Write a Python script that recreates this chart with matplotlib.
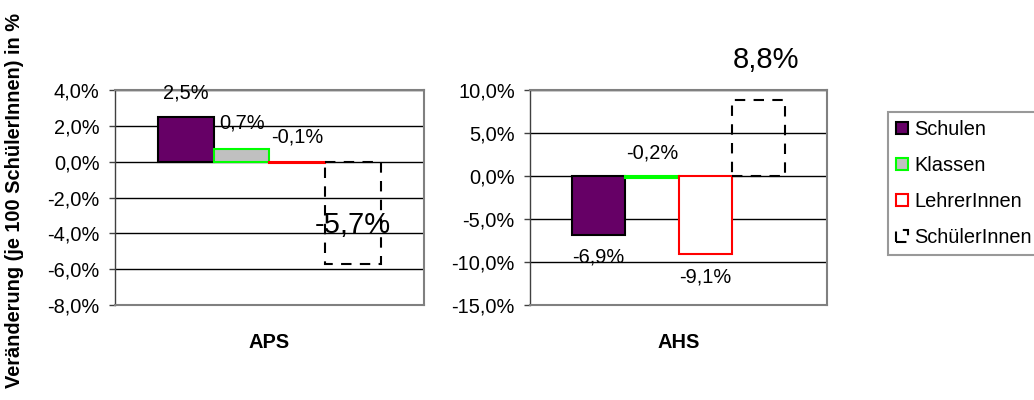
import numpy as np
import matplotlib
matplotlib.use("Agg")
import matplotlib.pyplot as plt
from matplotlib.patches import Patch
from matplotlib.ticker import FuncFormatter, MultipleLocator

plt.rcParams['font.family'] = ['Liberation Sans', 'DejaVu Sans']
FS = 14.4

# --- data (change in %, per 100 pupils) ---
series = ['Schulen', 'Klassen', 'LehrerInnen', 'SchülerInnen']
aps = [2.5, 0.7, -0.1, -5.7]
ahs = [-6.9, -0.2, -9.1, 8.8]

# --- bar styles per series ---
faces = ['#660066', '#C0C0C0', 'white', 'none']
edges = ['black', '#00FF00', '#FF0000', 'black']
lstyles = ['-', '-', '-', (0, (5, 4))]

def pct(v, _=None):
    return f"{v:.1f}%".replace('.', ',')

# label offsets in pixels (dx, dy) from bar end, font sizes
panels = [
    dict(cat='APS', vals=aps, ylim=(-8, 4), step=2,
         rect=[0.1112, 0.2375, 0.2988, 0.5375],
         offs=[(0, 24), (0, 26), (0, 26), (0, 39)], fs=[FS, FS, FS, 21]),
    dict(cat='AHS', vals=ahs, ylim=(-15, 10), step=5,
         rect=[0.5126, 0.2375, 0.2872, 0.5375],
         offs=[(0, -22), (0, 25), (0, -23), (7, 40)], fs=[FS, FS, FS, 21]),
]

fig = plt.figure(figsize=(10.34, 4.0), dpi=100, facecolor='white')
w = 0.18
xs = (np.arange(len(series)) - 1.5) * w

for p in panels:
    ax = fig.add_axes(p['rect'])
    ax.set_xlim(-0.5, 0.5); ax.set_ylim(*p['ylim'])
    ax.yaxis.set_major_locator(MultipleLocator(p['step']))
    ax.yaxis.set_major_formatter(FuncFormatter(pct))
    ax.yaxis.grid(True, color='black', lw=1)
    ax.set_axisbelow(True)
    for i, v in enumerate(p['vals']):
        ax.bar(xs[i], v, width=w, facecolor=faces[i], edgecolor=edges[i],
               linestyle=lstyles[i], lw=1.5, zorder=3)
        dx, dy = p['offs'][i]
        ax.annotate(pct(v), (xs[i], v), xytext=(dx, dy), textcoords='offset pixels',
                    ha='center', va='center', fontsize=p['fs'][i], zorder=5)
    ax.set_xticks([0]); ax.set_xticklabels([p['cat']], fontweight='bold', fontsize=FS)
    ax.tick_params(axis='x', length=0, pad=20)
    ax.tick_params(axis='y', direction='out', length=4, width=1, color='#404040',
                   labelsize=FS, pad=7)
    for s in ['top', 'right', 'bottom']:
        ax.spines[s].set_color('#808080'); ax.spines[s].set_linewidth(1.5)
    ax.spines['left'].set_color('#404040'); ax.spines['left'].set_linewidth(1)

fig.text(15/1034, 0.5, "Veränderung (je 100 SchülerInnen) in %", rotation=90,
         ha='center', va='center', fontweight='bold', fontsize=FS)

handles = [Patch(facecolor=('white' if f == 'none' else f), edgecolor=e, linestyle=ls, lw=1.5)
           for f, e, ls in zip(faces, edges, lstyles)]
leg = fig.legend(handles, series, loc='upper left', bbox_to_anchor=(888/1034, 1-112/400),
                 fontsize=FS, frameon=True, fancybox=False, edgecolor='#808080',
                 handlelength=0.6, handleheight=0.6, handletextpad=0.3,
                 labelspacing=0.85, borderpad=0.4, borderaxespad=0)
leg.get_frame().set_linewidth(1.5)

plt.savefig("out.png", dpi=100, facecolor='white')
